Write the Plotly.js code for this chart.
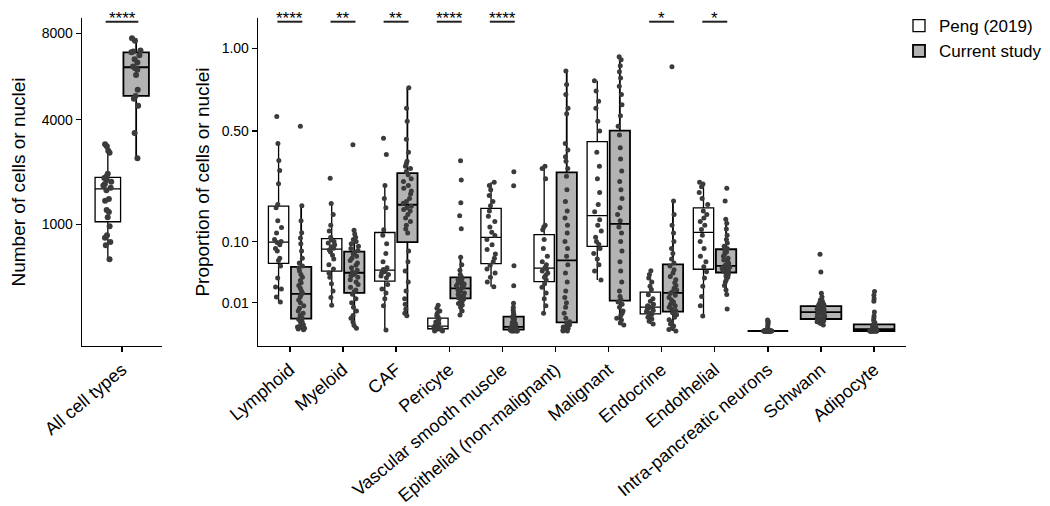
<!DOCTYPE html>
<html><head><meta charset="utf-8">
<script src="https://cdn.plot.ly/plotly-3.0.1.min.js"></script>
<style>html,body{margin:0;padding:0;background:#fff}#chart{width:1050px;height:506px}</style>
</head><body><div id="chart"></div>
<script>
// ---------- data ----------
const allLabel = 'All cell types';
const categories = ['Lymphoid','Myeloid','CAF','Pericyte','Vascular smooth muscle','Epithelial (non-malignant)','Malignant','Endocrine','Endothelial','Intra-pancreatic neurons','Schwann','Adipocyte'];
const pengCategories = ['Lymphoid','Myeloid','CAF','Pericyte','Vascular smooth muscle','Epithelial (non-malignant)','Malignant','Endocrine','Endothelial'];
const soloCategories = ['Intra-pancreatic neurons','Schwann','Adipocyte'];
const seriesNames = ['Peng (2019)','Current study'];

// number of cells or nuclei per sample
const pengAll = [442, 640, 690, 760, 800, 960, 1140, 1250, 1290, 1500, 1540, 1760, 1820, 1880, 1920, 1980, 2030, 2080, 2120, 2200, 2840, 2900, 3050, 3117];
const curAll = [2663, 3507, 4557, 4850, 4965, 5230, 5900, 6150, 6230, 6300, 6500, 6650, 6850, 7004, 7050, 7100, 7600, 7731];

// proportions, Peng (2019)
const pengLymphoid = [0.0105, 0.0144, 0.022, 0.0243, 0.035, 0.0527, 0.062, 0.066, 0.08, 0.085, 0.093, 0.098, 0.1, 0.105, 0.12, 0.134, 0.152, 0.19, 0.2, 0.271, 0.322, 0.364, 0.44, 0.576];
const pengMyeloid = [0.0083, 0.014, 0.02, 0.028, 0.036, 0.042, 0.048, 0.055, 0.065, 0.072, 0.078, 0.082, 0.0855, 0.089, 0.093, 0.097, 0.1, 0.104, 0.11, 0.125, 0.14, 0.17, 0.2037, 0.2916];
const pengCAF = [0.00001, 0.008, 0.013, 0.018, 0.022, 0.027, 0.0355, 0.038, 0.04, 0.042, 0.044, 0.0455, 0.0475, 0.05, 0.06, 0.075, 0.095, 0.115, 0.128, 0.19, 0.22, 0.2644, 0.39, 0.465];
const pengPericyte = [0, 0, 0.00001, 0.00002, 0.00003, 0.00005, 0.00008, 0.0001, 0.00013, 0.00017, 0.0002, 0.00025, 0.00035, 0.0005, 0.0007, 0.001, 0.0013, 0.0018, 0.0024, 0.003, 0.004, 0.005, 0.0065, 0.0083];
const pengVSM = [0.0246, 0.03, 0.036, 0.042, 0.048, 0.054, 0.06, 0.066, 0.074, 0.083, 0.093, 0.105, 0.114, 0.122, 0.135, 0.15, 0.165, 0.18, 0.196, 0.21, 0.23, 0.25, 0.265, 0.2767];
const pengEpithelial = [0.0039, 0.008, 0.013, 0.018, 0.024, 0.028, 0.033, 0.036, 0.039, 0.042, 0.045, 0.048, 0.051, 0.055, 0.06, 0.07, 0.085, 0.105, 0.128, 0.135, 0.14, 0.29, 0.33, 0.34];
const pengMalignant = [0.0325, 0.045, 0.055, 0.065, 0.075, 0.085, 0.094, 0.1, 0.11, 0.125, 0.14, 0.155, 0.178, 0.2, 0.24, 0.29, 0.34, 0.4, 0.5, 0.55, 0.62, 0.66, 0.72, 0.784];
const pengEndocrine = [0.0006, 0.0012, 0.0018, 0.0024, 0.003, 0.0034, 0.004, 0.0046, 0.0052, 0.0058, 0.0063, 0.0068, 0.0074, 0.008, 0.009, 0.011, 0.013, 0.0165, 0.0215, 0.025, 0.03, 0.035, 0.04, 0.0453];
const pengEndothelial = [0.0028, 0.008, 0.015, 0.025, 0.035, 0.044, 0.0515, 0.06, 0.07, 0.085, 0.1, 0.115, 0.129, 0.14, 0.15, 0.16, 0.17, 0.18, 0.2, 0.22, 0.24, 0.26, 0.27, 0.2766];

// proportions, current study
const curLymphoid = [0.00002, 0.00005, 0.0001, 0.0002, 0.0003, 0.0005, 0.0007, 0.001, 0.0013, 0.0017, 0.0021, 0.003, 0.004, 0.005, 0.0065, 0.008, 0.01, 0.012, 0.0145, 0.0165, 0.018, 0.02, 0.023, 0.026, 0.029, 0.032, 0.036, 0.04, 0.045, 0.05, 0.053, 0.058, 0.066, 0.08, 0.0955, 0.108, 0.121, 0.152, 0.196, 0.524];
const curMyeloid = [0.0001, 0.0004, 0.001, 0.002, 0.003, 0.005, 0.007, 0.01, 0.013, 0.017, 0.0195, 0.021, 0.024, 0.027, 0.03, 0.033, 0.036, 0.038, 0.04, 0.0415, 0.0435, 0.046, 0.05, 0.054, 0.058, 0.062, 0.066, 0.07, 0.074, 0.077, 0.081, 0.085, 0.09, 0.095, 0.1, 0.105, 0.11, 0.118, 0.127, 0.434];
const curCAF = [0.0029, 0.004, 0.006, 0.009, 0.013, 0.02, 0.03, 0.045, 0.06, 0.08, 0.12, 0.13, 0.14, 0.15, 0.16, 0.17, 0.18, 0.185, 0.19, 0.195, 0.204, 0.21, 0.22, 0.235, 0.245, 0.255, 0.265, 0.28, 0.29, 0.305, 0.318, 0.33, 0.34, 0.35, 0.36, 0.4, 0.46, 0.55, 0.62, 0.74];
const curPericyte = [0.0032, 0.005, 0.007, 0.0085, 0.0095, 0.0105, 0.0115, 0.012, 0.0125, 0.013, 0.0138, 0.0145, 0.015, 0.016, 0.017, 0.018, 0.019, 0.02, 0.021, 0.022, 0.0236, 0.0245, 0.0255, 0.0265, 0.0275, 0.0285, 0.03, 0.031, 0.033, 0.035, 0.037, 0.04, 0.046, 0.055, 0.068, 0.1305, 0.166, 0.206, 0.285, 0.363];
const curVSM = [0, 0, 0, 0, 0, 0.000005, 0.00001, 0.00001, 0.00002, 0.00002, 0.00003, 0.00004, 0.00005, 0.00006, 0.00008, 0.0001, 0.00012, 0.00015, 0.00018, 0.0002, 0.00025, 0.0003, 0.0004, 0.0005, 0.0007, 0.0009, 0.0012, 0.0015, 0.0019, 0.0024, 0.0028, 0.0035, 0.0045, 0.0055, 0.007, 0.0096, 0.0257, 0.0534, 0.264, 0.3176];
const curEpithelial = [0, 0, 0.00001, 0.00003, 0.00006, 0.0001, 0.0002, 0.0003, 0.0005, 0.0008, 0.0011, 0.002, 0.004, 0.007, 0.01, 0.014, 0.02, 0.03, 0.042, 0.055, 0.07, 0.085, 0.1, 0.12, 0.14, 0.16, 0.18, 0.21, 0.25, 0.3, 0.33, 0.36, 0.38, 0.41, 0.44, 0.59, 0.62, 0.7, 0.76, 0.846];
const curMalignant = [0.00045, 0.0008, 0.0015, 0.002, 0.003, 0.004, 0.005, 0.007, 0.009, 0.0105, 0.0125, 0.015, 0.02, 0.03, 0.045, 0.06, 0.08, 0.1, 0.12, 0.135, 0.152, 0.17, 0.19, 0.22, 0.25, 0.28, 0.32, 0.37, 0.42, 0.48, 0.525, 0.58, 0.64, 0.7, 0.75, 0.8, 0.84, 0.88, 0.92, 0.941];
const curEndocrine = [0, 0.00003, 0.0001, 0.0003, 0.0006, 0.001, 0.0016, 0.0024, 0.0033, 0.0042, 0.0052, 0.006, 0.007, 0.008, 0.009, 0.0105, 0.012, 0.014, 0.016, 0.0175, 0.019, 0.021, 0.023, 0.026, 0.029, 0.033, 0.037, 0.042, 0.047, 0.053, 0.058, 0.065, 0.075, 0.085, 0.1, 0.12, 0.14, 0.17, 0.2116, 0.874];
const curEndothelial = [0.006, 0.0166, 0.021, 0.026, 0.03, 0.033, 0.036, 0.038, 0.04, 0.0415, 0.0441, 0.0455, 0.0465, 0.0475, 0.0485, 0.0495, 0.0505, 0.0513, 0.052, 0.0525, 0.0535, 0.055, 0.057, 0.06, 0.063, 0.066, 0.07, 0.074, 0.078, 0.082, 0.0852, 0.09, 0.097, 0.105, 0.115, 0.13, 0.145, 0.156, 0.2116, 0.2547];
const curNeurons = [0, 0, 0, 0, 0, 0, 0, 0, 0, 0, 0, 0, 0, 0, 0, 0, 0, 0, 0, 0, 0, 0, 0, 0, 0, 0, 0, 0, 0, 0, 0, 0, 0.00002, 0.00005, 0.0001, 0.0003, 0.0006, 0.0009, 0.0012, 0.0015];
const curSchwann = [0.00045, 0.0007, 0.0009, 0.0011, 0.0012, 0.0013, 0.0014, 0.0015, 0.0016, 0.0017, 0.0019, 0.0021, 0.0024, 0.0027, 0.003, 0.0033, 0.0036, 0.0039, 0.0042, 0.0044, 0.0046, 0.0049, 0.0052, 0.0055, 0.0058, 0.0061, 0.0065, 0.0069, 0.0073, 0.0076, 0.008, 0.0085, 0.009, 0.01, 0.011, 0.012, 0.0145, 0.0178, 0.0436, 0.0736];
const curAdipocyte = [0, 0, 0, 0, 0, 0, 0, 0, 0, 0, 0, 0, 0, 0, 0, 0.000005, 0.00001, 0.00002, 0.00003, 0.00004, 0.00005, 0.00007, 0.0001, 0.00013, 0.00017, 0.00022, 0.00028, 0.00035, 0.00043, 0.0005, 0.0006, 0.0009, 0.0014, 0.002, 0.0028, 0.0045, 0.011, 0.013, 0.016, 0.0195];

// axis ticks (sqrt-scaled axes)
const leftTicks = [1000, 4000, 8000];
const leftTickText = ['1000', '4000', '8000'];
const rightTicks = [0.01, 0.10, 0.50, 1.00];
const rightTickText = ['0.01', '0.10', '0.50', '1.00'];

// significance marks
const sigAllLabel = '****';
const sigCategories = ['Lymphoid','Myeloid','CAF','Pericyte','Vascular smooth muscle','Endocrine','Endothelial'];
const sigLabels = ['****','**','**','****','****','*','*'];

// ---------- build ----------
const FONT = 'Liberation Sans, Arial, Helvetica, sans-serif';
const PT = '#3b3b3b';
const GREY = '#b3b3b3';

const pengByCat = [pengLymphoid, pengMyeloid, pengCAF, pengPericyte, pengVSM, pengEpithelial, pengMalignant, pengEndocrine, pengEndothelial];
const curByCat = [curLymphoid, curMyeloid, curCAF, curPericyte, curVSM, curEpithelial, curMalignant, curEndocrine, curEndothelial];
const soloByCat = [curNeurons, curSchwann, curAdipocyte];

function flatten(cats, groups) {
  const x = [], y = [];
  cats.forEach((c, i) => groups[i].forEach(v => { x.push(c); y.push(Math.sqrt(v)); }));
  return {x, y};
}

function boxTrace(d, opts) {
  return Object.assign({
    type: 'box', x: d.x, y: d.y,
    boxpoints: 'all', pointpos: 0, jitter: 0.45, whiskerwidth: 0,
    marker: {color: PT, size: 5, line: {width: 0}},
    hoverinfo: 'skip'
  }, opts);
}

const traces = [];
traces.push(boxTrace(flatten([allLabel], [pengAll]), {
  xaxis: 'x', yaxis: 'y', name: seriesNames[0], showlegend: false,
  alignmentgroup: 'left', offsetgroup: 'peng',
  fillcolor: '#ffffff', line: {color: '#000', width: 1.3}, jitter: 0.4,
  marker: {color: PT, size: 6}
}));
traces.push(boxTrace(flatten([allLabel], [curAll]), {
  xaxis: 'x', yaxis: 'y', name: seriesNames[1], showlegend: false,
  alignmentgroup: 'left', offsetgroup: 'cur',
  fillcolor: GREY, line: {color: '#000', width: 1.8}, jitter: 0.4,
  marker: {color: PT, size: 6}
}));
traces.push(boxTrace(flatten(pengCategories, pengByCat), {
  xaxis: 'x2', yaxis: 'y2', name: seriesNames[0], legendgroup: 'peng',
  alignmentgroup: 'right', offsetgroup: 'peng',
  fillcolor: '#ffffff', line: {color: '#000', width: 1.3}
}));
traces.push(boxTrace(flatten(pengCategories, curByCat), {
  xaxis: 'x2', yaxis: 'y2', name: seriesNames[1], legendgroup: 'cur',
  alignmentgroup: 'right', offsetgroup: 'cur',
  fillcolor: GREY, line: {color: '#000', width: 1.8}
}));
traces.push(boxTrace(flatten(soloCategories, soloByCat), {
  xaxis: 'x2', yaxis: 'y2', name: seriesNames[1], legendgroup: 'cur', showlegend: false,
  alignmentgroup: 'solo', offsetgroup: 'solo',
  fillcolor: GREY, line: {color: '#000', width: 1.8}, jitter: 0.22
}));

const W = 1050;
const shapes = [], annotations = [];
const sigY = 0.9887, starY = 0.997;
shapes.push({type: 'line', xref: 'x', yref: 'paper', x0: -0.245, x1: 0.245, y0: sigY, y1: sigY, line: {color: '#222', width: 2}});
annotations.push({xref: 'x', yref: 'paper', x: 0, y: starY, text: sigAllLabel, showarrow: false, yanchor: 'middle', font: {family: FONT, size: 17, color: '#000'}});
sigCategories.forEach((c, i) => {
  const k = categories.indexOf(c);
  shapes.push({type: 'line', xref: 'x2', yref: 'paper', x0: k - 0.235, x1: k + 0.235, y0: sigY, y1: sigY, line: {color: '#222', width: 2}});
  annotations.push({xref: 'x2', yref: 'paper', x: k, y: starY, text: sigLabels[i], showarrow: false, yanchor: 'middle', font: {family: FONT, size: 17, color: '#000'}});
});

const axisCommon = {
  showline: true, linecolor: '#000', linewidth: 1.3, ticks: 'outside', ticklen: 5, tickwidth: 1.3, tickcolor: '#000',
  showgrid: false, zeroline: false, fixedrange: true
};

const layout = {
  width: 1050, height: 506,
  margin: {l: 0, r: 0, t: 18, b: 160},
  paper_bgcolor: '#fff', plot_bgcolor: 'rgba(0,0,0,0)',
  font: {family: FONT, color: '#000', size: 14},
  boxmode: 'group', boxgap: 0.15, boxgroupgap: 0.1,
  showlegend: true,
  legend: {x: 899 / W, xanchor: 'left', y: 1.03, yanchor: 'top', font: {family: FONT, size: 17, color: '#000'}, bgcolor: 'rgba(0,0,0,0)', tracegroupgap: 0, itemclick: false, itemdoubleclick: false},
  xaxis: Object.assign({}, axisCommon, {
    domain: [82 / W, 162 / W], anchor: 'y', type: 'category', categoryorder: 'array', categoryarray: [allLabel],
    range: [-0.6, 0.6], tickangle: -40, tickfont: {family: FONT, size: 18, color: '#000'}
  }),
  yaxis: Object.assign({}, axisCommon, {
    domain: [0, 1], anchor: 'x', range: [-5.24, 94.07],
    tickvals: leftTicks.map(Math.sqrt), ticktext: leftTickText, tickfont: {family: FONT, size: 14, color: '#000'},
    title: {text: 'Number of cells or nuclei', font: {family: FONT, size: 19, color: '#000'}, standoff: 11}
  }),
  xaxis2: Object.assign({}, axisCommon, {
    domain: [258 / W, 906 / W], anchor: 'y2', type: 'category', categoryorder: 'array', categoryarray: categories,
    range: [-0.6, categories.length - 0.4], tickangle: -40, tickfont: {family: FONT, size: 18, color: '#000'}
  }),
  yaxis2: Object.assign({}, axisCommon, {
    domain: [0, 1], anchor: 'x2', range: [-0.053, 1.107],
    tickvals: rightTicks.map(Math.sqrt), ticktext: rightTickText, tickfont: {family: FONT, size: 14, color: '#000'},
    title: {text: 'Proportion of cells or nuclei', font: {family: FONT, size: 19, color: '#000'}, standoff: 7}
  }),
  shapes: shapes,
  annotations: annotations
};

Plotly.newPlot('chart', traces, layout, {displayModeBar: false, staticPlot: true});
</script>
</body></html>
